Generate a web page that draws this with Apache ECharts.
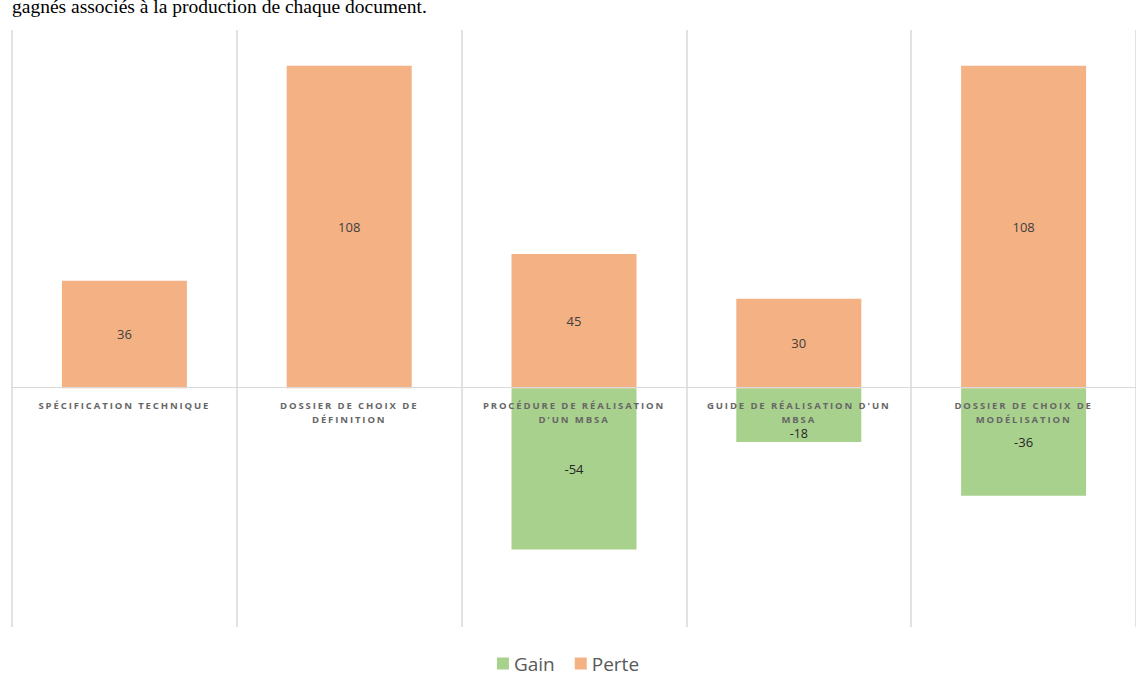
<!DOCTYPE html>
<html><head><meta charset="utf-8">
<script src="https://cdn.jsdelivr.net/npm/echarts@6/dist/echarts.min.js"></script>
<style>html,body{margin:0;padding:0;background:#fff}#c{width:1136px;height:684px}
svg text[style*="bold"], svg text[font-weight="bold"] { letter-spacing: 1.9px; }</style>
</head><body><div id="c"></div>
<script>
const categories = ["SPÉCIFICATION TECHNIQUE","DOSSIER DE CHOIX DE DÉFINITION","PROCÉDURE DE RÉALISATION D'UN MBSA","GUIDE DE RÉALISATION D'UN MBSA","DOSSIER DE CHOIX DE MODÉLISATION"];
const tickLabels = ["SPÉCIFICATION TECHNIQUE","DOSSIER DE CHOIX DE\nDÉFINITION","PROCÉDURE DE RÉALISATION\nD'UN MBSA","GUIDE DE RÉALISATION D'UN\nMBSA","DOSSIER DE CHOIX DE\nMODÉLISATION"];
const gain = [null, null, -54, -18, -36];
const perte = [36, 108, 45, 30, 108];
const headerText = "gagnés associés à la production de chaque document.";

const gainData = gain.map((v, i) => (v !== null && v > -25) ? { value: v, label: { offset: [0, 18], fontSize: 12.5 } } : v);

const chart = echarts.init(document.getElementById('c'), null, { renderer: 'svg' });
chart.setOption({
  animation: false,
  title: { text: headerText, left: 7, top: -9, textStyle: { fontFamily: 'Liberation Serif', fontSize: 19.5, fontWeight: 'normal', color: '#000' } },
  legend: { bottom: 6, left: 'center', icon: 'rect', itemWidth: 12, itemHeight: 12, itemGap: 20,
    textStyle: { fontSize: 19, color: '#595959', fontFamily: 'Open Sans' }, data: ['Gain','Perte'] },
  grid: { left: 12, right: 0, top: 30, bottom: 57, containLabel: false },
  xAxis: { type: 'category', data: categories, z: 5, position: 'bottom', offset: -240,
    axisLine: { onZero: false, lineStyle: { color: '#d9d9d9', width: 1 } },
    axisTick: { show: false },
    splitLine: { show: true, lineStyle: { color: '#d9d9d9', width: 1.5 } },
    axisLabel: { interval: 0, margin: 11, color: '#666666', fontSize: 9.5, fontWeight: 'bold', fontFamily: 'Open Sans', lineHeight: 14,
      formatter: (v, i) => tickLabels[i] } },
  yAxis: { type: 'value', min: -80, max: 120, show: false, splitLine: { show: false } },
  series: [
    { name: 'Gain', type: 'bar', stack: 'a', data: gainData, barWidth: 125, itemStyle: { color: '#A9D18E' },
      label: { show: true, position: 'inside', color: '#262626', fontSize: 13, fontFamily: 'Open Sans' } },
    { name: 'Perte', type: 'bar', stack: 'a', data: perte, barWidth: 125, itemStyle: { color: '#F4B183' },
      label: { show: true, position: 'inside', color: '#404040', fontSize: 13, fontFamily: 'Open Sans' } }
  ]
});
</script></body></html>
